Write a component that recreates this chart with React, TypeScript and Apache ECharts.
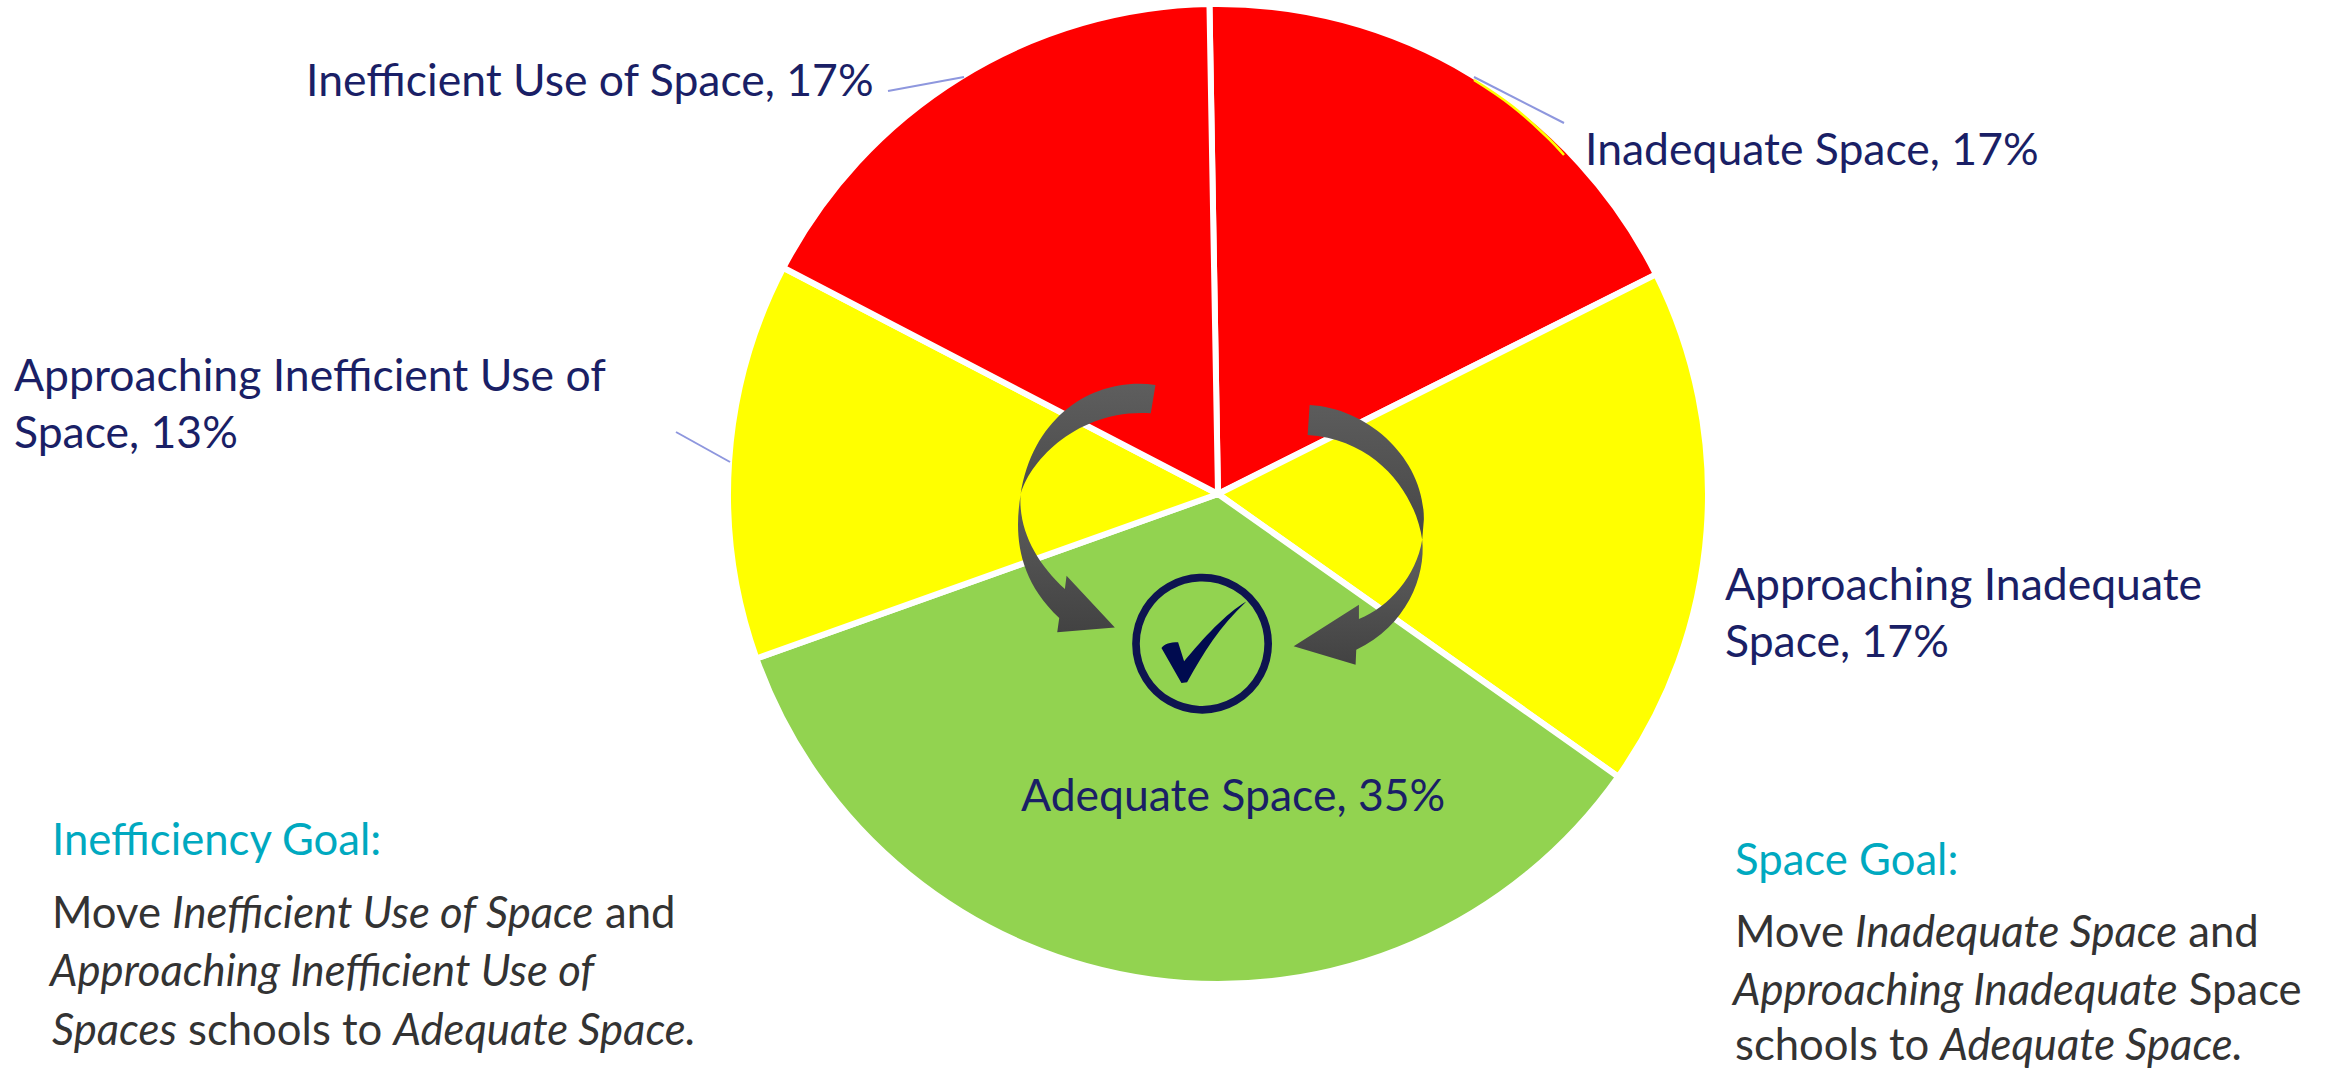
import React, { useEffect, useRef } from "react";
import * as echarts from "echarts";

const sliceNames = ["Inadequate Space", "Approaching Inadequate\nSpace", "Adequate Space", "Approaching Inefficient Use of\nSpace", "Inefficient Use of Space"];
const shownPercents = [17, 17, 35, 13, 17];
const sliceShares = [17.9, 17.2, 34.8, 13.1, 17.1];
const sliceColors = ["#ff0000", "#ffff00", "#92d350", "#ffff00", "#ff0000"];
const labelAnchors = [
  [1585, 165],
  [1725, 657],
  [1021, 811],
  [14, 448],
  [306, 96],
];

const NAVY = "#1a1f66";
const TEAL = "#00a9c0";
const DARK = "#333333";
const LABEL_FONT = "Lato";
const GOAL_FONT = "Lato";
const GOAL_SCALE = 0.97;

echarts.graphic.registerShape("arrowLeftTop", echarts.graphic.extendPath("M617,135 C440,110 250,220 212,465 C235,370 380,205 603,220 Z", {}));
echarts.graphic.registerShape("arrowLeftBottom", echarts.graphic.extendPath("M212,465 C195,570 195,710 328,835 L322,878 L495,863 L350,708 L345,748 C260,670 205,570 212,465 Z", {}));
echarts.graphic.registerShape("arrowRightTop", echarts.graphic.extendPath("M1080,195 C1260,205 1425,360 1423,540 L1418,600 C1400,470 1290,300 1074,285 Z", {}));
echarts.graphic.registerShape("arrowRightBottom", echarts.graphic.extendPath("M1418,600 C1430,710 1370,860 1220,930 L1218,975 L1032,920 L1228,795 L1228,838 C1320,800 1400,710 1418,600 Z", {}));
echarts.graphic.registerShape("tick", echarts.graphic.extendPath("M635,925 C645,912 660,908 685,908 L703,965 C760,895 830,820 890,785 C810,860 760,940 712,1028 L695,1030 Z", {}));

const grad = (a: string, b: string) => ({
  type: "linear", x: 0, y: 0, x2: 0, y2: 1,
  colorStops: [{ offset: 0, color: a }, { offset: 1, color: b }],
});

const goalRich = {
  n: { fontFamily: GOAL_FONT, fontSize: 45, fill: DARK, color: DARK },
  i: { fontFamily: GOAL_FONT, fontSize: 45, fontStyle: "italic", fill: DARK, color: DARK },
};

function goalLine(x: number, baseline: number, text: string) {
  return {
    type: "text", x, y: baseline + 5, scaleX: GOAL_SCALE, z: 50,
    style: { text, rich: goalRich, textAlign: "left", textVerticalAlign: "bottom", fontFamily: GOAL_FONT, fontSize: 45, fill: DARK },
  };
}
function goalHead(x: number, baseline: number, text: string) {
  return {
    type: "text", x, y: baseline - 40, scaleX: GOAL_SCALE, z: 50,
    style: { text, fontFamily: GOAL_FONT, fontSize: 45, fill: TEAL, textAlign: "left", textVerticalAlign: "top" },
  };
}
function leader(x1: number, y1: number, x2: number, y2: number) {
  return { type: "line", z: 40, shape: { x1, y1, x2, y2 }, style: { stroke: "#8e97de", lineWidth: 2 } };
}

export default function App() {
  const ref = useRef<HTMLDivElement>(null);
  useEffect(() => {
    const chart = echarts.init(ref.current!, undefined, { renderer: "svg" });
    chart.setOption({
      animation: false,
      backgroundColor: "#ffffff",
      series: [
        {
          type: "pie",
          center: [1218, 494],
          radius: [0, 490],
          startAngle: 91,
          clockwise: true,
          avoidLabelOverlap: false,
          silent: true,
          itemStyle: { borderColor: "#ffffff", borderWidth: 6 },
          labelLine: { show: false },
          label: {
            show: true,
            position: "outside",
            fontFamily: LABEL_FONT,
            fontSize: 44.5,
            lineHeight: 57,
            color: NAVY,
            align: "left",
          },
          labelLayout: (p: any) => {
            const [x, y] = labelAnchors[p.dataIndex];
            return { x, y: y + 11, align: "left", verticalAlign: "bottom" };
          },
          data: sliceNames.map((n, i) => ({
            name: `${n}, ${shownPercents[i]}%`,
            value: sliceShares[i],
            itemStyle: { color: sliceColors[i] },
          })),
        },
      ],
      graphic: [
        leader(888, 91, 964, 77),
        leader(676, 432, 730, 462),
        leader(1474, 77, 1564, 123),
        {
          type: "polyline", z: 39,
          shape: { points: [[1474, 80], [1512, 106], [1547, 137], [1564, 155]], smooth: 0.4 },
          style: { stroke: "#ffff00", lineWidth: 2.5, fill: "none" },
        },
        {
          type: "group", x: 950, y: 340, scaleX: 1 / 3, scaleY: 1 / 3,
          children: [
            { type: "arrowLeftTop", z: 60, style: { fill: grad("#5e5e5e", "#4b4b4b") } },
            { type: "arrowLeftBottom", z: 60, style: { fill: grad("#5e5e5e", "#424242") } },
            { type: "arrowRightTop", z: 60, style: { fill: grad("#5c5c5c", "#474747") } },
            { type: "arrowRightBottom", z: 60, style: { fill: grad("#606060", "#424242") } },
            { type: "circle", z: 60, shape: { cx: 757, cy: 912, r: 198.5 }, style: { fill: "none", stroke: "#0e1450", lineWidth: 23 } },
            { type: "tick", z: 61, style: { fill: "#000b4f" } },
          ],
        },
        goalHead(52, 855, "Inefficiency Goal:"),
        goalLine(52, 928, "{n|Move }{i|Inefficient Use of Space}{n| and}"),
        goalLine(50, 986, "{i|Approaching Inefficient Use of}"),
        goalLine(52, 1045, "{i|Spaces}{n| schools to }{i|Adequate Space.}"),
        goalHead(1735, 875, "Space Goal:"),
        goalLine(1735, 947, "{n|Move }{i|Inadequate Space}{n| and}"),
        goalLine(1733, 1005, "{i|Approaching Inadequate}{n| Space}"),
        goalLine(1735, 1060, "{n|schools to }{i|Adequate Space.}"),
      ],
    });
    return () => chart.dispose();
  }, []);
  return <div ref={ref} style={{ position: "absolute", left: 0, top: 0, width: 2331, height: 1071 }} />;
}
